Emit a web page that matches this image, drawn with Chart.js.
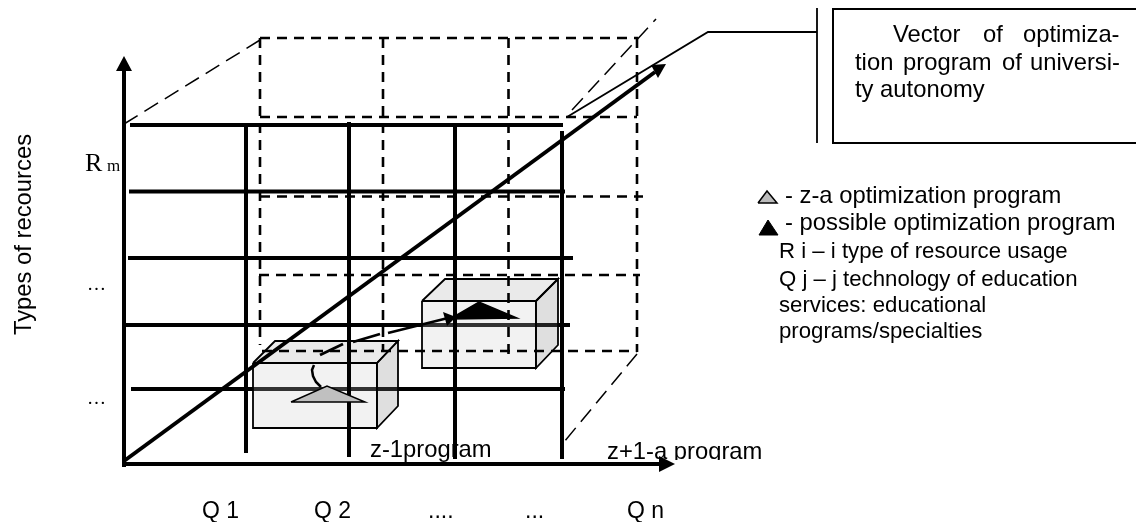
<!DOCTYPE html>
<html>
<head>
<meta charset="utf-8">
<style>
  html, body { margin: 0; padding: 0; background: #fff; }
  canvas { display: block; }
</style>
<script src="https://cdn.jsdelivr.net/npm/chart.js@4/dist/chart.umd.min.js"></script>
</head>
<body>
<canvas id="chart" width="1136" height="522"></canvas>
<script>
// Values, in the picture's own units

// resource rows (solid)
const rowY = [125, 191.5, 258, 325, 389];
const rowFrom = [130, 129, 128, 125, 131];
const rowTo = [563, 565, 573, 570, 565];

// technology columns (solid)
const colX = [246, 349, 455, 562];
const colFrom = [125, 122, 125, 131];
const colTo = [453, 457, 459, 459];

// back plane of the cube (dashed)
const backRowY = [38, 117, 196.5, 275, 351];
const backRowFrom = [260, 260, 260, 259, 262];
const backRowTo = [638, 637, 643, 640, 637];
const backColX = [260, 383, 508.5, 637];
const backColFrom = [38, 38, 38, 38];
const backColTo = [345, 352, 355, 352];

// axes, vector
const axisY = [[124, 467], [124, 70]];
const axisX = [[122, 464], [660, 464]];
const vector = [[124, 461], [655, 72]];
const pointer = [[567, 117], [708, 32], [817, 32]];

// perspective edges
const edgeTopLeft = [[124, 124], [260, 40]];
const edgeTopRight = [[572, 110], [656, 19]];
const edgeBottomRight = [[637, 354], [564, 442]];

// callout box
const calloutBar = [[817, 8], [817, 143]];
const calloutBox = [[1136, 9], [833, 9], [833, 143], [1136, 143]];

// arrow heads
const headY = [[124, 56], [116, 71], [132, 71]];
const headX = [[675, 464], [659, 456], [659, 472]];
const headVector = [[666, 64], [651, 65], [658, 78]];
const headProgram = [[456, 317], [443, 312], [447, 326]];

// program cubes
const cubeAFront = [[253, 363], [377, 363], [377, 428], [253, 428], [253, 363]];
const cubeATop = [[253, 363], [275, 341], [398, 341], [377, 363], [253, 363]];
const cubeASide = [[377, 363], [398, 341], [398, 406], [377, 428], [377, 363]];
const cubeBFront = [[422, 301], [536, 301], [536, 368], [422, 368], [422, 301]];
const cubeBTop = [[422, 301], [445, 279], [558, 279], [536, 301], [422, 301]];
const cubeBSide = [[536, 301], [558, 279], [558, 345], [536, 368], [536, 301]];

// program triangles
const triGrey = [[291, 402], [327, 386], [365, 402], [291, 402]];
const triBlack = [[450, 319], [479, 302], [517, 318], [450, 319]];

// transition between programs
const pathStart = [[314, 365], [312, 370], [313, 376], [316, 382], [321, 387]];
const pathDashA = [[320, 355], [343, 344]];
const pathDashB = [[353, 342], [380, 334]];
const pathDashC = [[388, 333], [448, 318]];

// legend triangles
const keyGrey = [[758, 203], [767, 191], [777, 203], [758, 203]];
const keyBlack = [[759, 235], [768, 220], [778, 235], [759, 235]];

// text
const boxLine1 = ['Vector', 'of', 'optimiza-'];
const boxLine1X = [893, 983, 1023];
const boxLine2 = ['tion', 'program', 'of', 'universi-'];
const boxLine2X = [855, 903, 1002, 1030];
const boxLine3 = 'ty autonomy';
const legendLines = ['- z-a optimization program', '- possible optimization program'];
const legendLineY = [203, 230];
const notes = ['R i \u2013 i type of resource usage', 'Q j \u2013 j technology of education', 'services: educational', 'programs/specialties'];
const noteY = [258, 285.5, 312, 338];
const bottomLabels = ['Q 1', 'Q 2', '....', '...', 'Q n'];
const bottomLabelX = [202, 314, 428, 525, 627];
const yAxisTitle = 'Types of recources';

const pairs = pts => pts.map(p => ({ x: p[0], y: p[1] }));

// drawn from the bottom up, Chart.js paints the first dataset last so this gets reversed
const layers = [];
function addLine(pts, width, color, dash) {
  layers.push({ data: pairs(pts), borderColor: color || '#000', borderWidth: width, borderDash: dash || [], fill: false });
}
function addShape(pts, fillColor, width, color) {
  layers.push({ data: pairs(pts), borderColor: color || '#000', borderWidth: width || 0, backgroundColor: fillColor, fill: 'shape' });
}

const DASH_GRID = [10, 7];
const DASH_EDGE = [16, 8];

rowY.forEach((y, i) => addLine([[rowFrom[i], y], [rowTo[i], y]], 4));

addShape(cubeAFront, 'rgba(204,204,204,0.25)', 1.8);
addShape(cubeATop, 'rgba(170,170,170,0.25)', 1.8);
addShape(cubeASide, 'rgba(128,128,128,0.25)', 1.8);
addShape(cubeBFront, 'rgba(204,204,204,0.25)', 1.8);
addShape(cubeBTop, 'rgba(170,170,170,0.25)', 1.8);
addShape(cubeBSide, 'rgba(128,128,128,0.25)', 1.8);

backRowY.forEach((y, i) => addLine([[backRowFrom[i], y], [backRowTo[i], y]], 2.6, '#000', DASH_GRID));
backColX.forEach((x, i) => addLine([[x, backColFrom[i]], [x, backColTo[i]]], 2.6, '#000', DASH_GRID));

colX.forEach((x, i) => addLine([[x, colFrom[i]], [x, colTo[i]]], 4));

addLine(edgeTopLeft, 1.5, '#000', DASH_EDGE);
addLine(edgeTopRight, 1.5, '#000', DASH_EDGE);
addLine(edgeBottomRight, 1.5, '#000', DASH_EDGE);

addLine(axisY, 4);
addLine(axisX, 4);
addLine(vector, 4);
addLine(pointer, 1.8);
addLine(calloutBar, 1.8);
addLine(calloutBox, 2);

addShape(headY, '#000');
addShape(headX, '#000');
addShape(headVector, '#000');

addShape(triGrey, '#c0c0c0', 1.5);
addShape(triBlack, '#000', 1.5);
addLine(pathStart, 2.5);
addLine(pathDashA, 2.8);
addLine(pathDashB, 2.8);
addLine(pathDashC, 2.8);
addShape(headProgram, '#000');

addShape(keyGrey, '#bbbbbb', 1.5);
addShape(keyBlack, '#000', 1);

// text sits under the marks, the columns and arrow cross the program labels
const diagramText = {
  id: 'diagramText',
  beforeDatasetsDraw(chart) {
    const { ctx, scales: { x, y } } = chart;
    const put = (str, px, py, font) => {
      ctx.font = font;
      ctx.fillText(str, x.getPixelForValue(px), y.getPixelForValue(py));
    };
    const SANS = '23.8px "Liberation Sans", Arial, sans-serif';
    const NOTE = '22.2px "Liberation Sans", Arial, sans-serif';
    const AXIS = '23px "Liberation Sans", Arial, sans-serif';
    ctx.save();
    ctx.fillStyle = '#000';
    ctx.textBaseline = 'alphabetic';

    boxLine1.forEach((w, i) => put(w, boxLine1X[i], 42, SANS));
    boxLine2.forEach((w, i) => put(w, boxLine2X[i], 70, SANS));
    put(boxLine3, 855, 97, SANS);

    legendLines.forEach((l, i) => put(l, 785, legendLineY[i], SANS));
    notes.forEach((n, i) => put(n, 779, noteY[i], NOTE));

    bottomLabels.forEach((l, i) => put(l, bottomLabelX[i], 518, AXIS));

    put('R', 85, 171, '26px "Liberation Serif", serif');
    put('m', 107, 171, '17px "Liberation Serif", serif');
    put('\u2026', 87, 290, '19px "Liberation Serif", serif');
    put('\u2026', 87, 404, '19px "Liberation Serif", serif');

    put('z-1program', 370, 457, SANS);
    // the original label loses its descenders under the axis
    ctx.save();
    ctx.beginPath();
    ctx.rect(x.getPixelForValue(600), y.getPixelForValue(438), 170, 22);
    ctx.clip();
    put('z+1-a program', 607, 459, SANS);
    ctx.restore();

    ctx.save();
    ctx.translate(x.getPixelForValue(30.5), y.getPixelForValue(335));
    ctx.rotate(-Math.PI / 2);
    ctx.font = SANS;
    ctx.fillText(yAxisTitle, 0, 0);
    ctx.restore();

    ctx.restore();
  }
};

new Chart(document.getElementById('chart').getContext('2d'), {
  type: 'scatter',
  data: { datasets: layers.slice().reverse().map(d => Object.assign({ showLine: true, pointRadius: 0, tension: 0 }, d)) },
  options: {
    responsive: false,
    animation: false,
    layout: { padding: 0 },
    plugins: { legend: { display: false }, tooltip: { enabled: false } },
    scales: {
      x: { type: 'linear', min: 0, max: 1136, display: false },
      y: { type: 'linear', min: 0, max: 522, reverse: true, display: false }
    }
  },
  plugins: [diagramText]
});
</script>
</body>
</html>
